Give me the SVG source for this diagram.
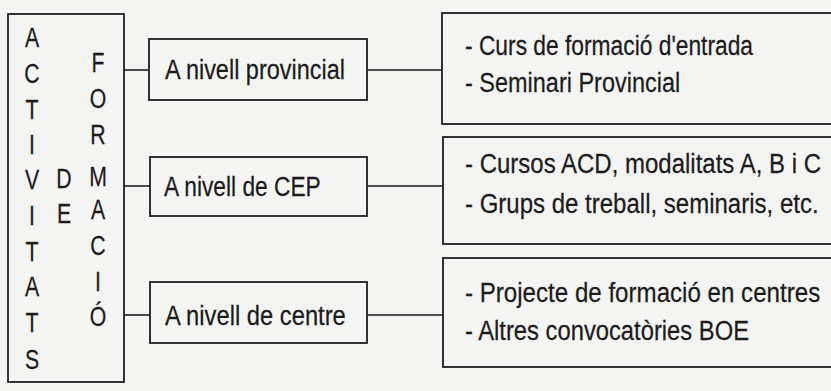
<svg xmlns="http://www.w3.org/2000/svg" width="831" height="391" viewBox="0 0 831 391">
<style>
.box{fill:none;stroke:#1e1e1e;stroke-width:1.8}
.ln{stroke:#1e1e1e;stroke-width:1.6;fill:none}
text{font-family:"Liberation Sans","DejaVu Sans",sans-serif;fill:#1c1c1c;stroke:#1c1c1c;stroke-width:0.25}
.t{font-size:28px}
.v{font-size:28px;text-anchor:middle}
</style>
<rect width="831" height="391" fill="#f4f4f2"/>
<g id="activitats">
<rect class="box" x="8" y="14" width="116" height="368"/>
<g transform="translate(32 0) scale(0.76 1)">
<text class="v" x="0" y="47">A</text>
<text class="v" x="0" y="83">C</text>
<text class="v" x="0" y="119">T</text>
<text class="v" x="0" y="154">I</text>
<text class="v" x="0" y="189">V</text>
<text class="v" x="0" y="225">I</text>
<text class="v" x="0" y="261">T</text>
<text class="v" x="0" y="296">A</text>
<text class="v" x="0" y="332">T</text>
<text class="v" x="0" y="369">S</text>
</g>
<g transform="translate(64 0) scale(0.76 1)">
<text class="v" x="0" y="188">D</text>
<text class="v" x="0" y="223">E</text>
</g>
<g transform="translate(98 0) scale(0.76 1)">
<text class="v" x="0" y="72">F</text>
<text class="v" x="0" y="108">O</text>
<text class="v" x="0" y="144">R</text>
<text class="v" x="0" y="186">M</text>
<text class="v" x="0" y="219">A</text>
<text class="v" x="0" y="255">C</text>
<text class="v" x="0" y="291">I</text>
<text class="v" x="0" y="326">Ó</text>
</g>
</g>
<g id="connectors">
<line class="ln" x1="124" y1="70" x2="149" y2="70"/>
<line class="ln" x1="124" y1="186" x2="150" y2="186"/>
<line class="ln" x1="124" y1="315" x2="150" y2="315"/>
<line class="ln" x1="367" y1="70" x2="442" y2="70"/>
<line class="ln" x1="367" y1="186" x2="443" y2="186"/>
<line class="ln" x1="367" y1="315" x2="443" y2="315"/>
</g>
<g id="provincial">
<rect class="box" x="149" y="39" width="218" height="61"/>
<text class="t" transform="translate(165 79) scale(0.8 1)" textLength="225" lengthAdjust="spacingAndGlyphs">A nivell provincial</text>
</g>
<g id="cep">
<rect class="box" x="150" y="157" width="217" height="59"/>
<text class="t" transform="translate(164 196) scale(0.8 1)" textLength="196" lengthAdjust="spacingAndGlyphs">A nivell de CEP</text>
</g>
<g id="centre">
<rect class="box" x="150" y="282" width="217" height="61"/>
<text class="t" transform="translate(165 325) scale(0.8 1)" textLength="226" lengthAdjust="spacingAndGlyphs">A nivell de centre</text>
</g>
<g id="provincial-items">
<rect class="box" x="442" y="13" width="400" height="111"/>
<text class="t" transform="translate(465 55) scale(0.8 1)" textLength="360" lengthAdjust="spacingAndGlyphs">- Curs de formació d'entrada</text>
<text class="t" transform="translate(465 92) scale(0.8 1)" textLength="269" lengthAdjust="spacingAndGlyphs">- Seminari Provincial</text>
</g>
<g id="cep-items">
<rect class="box" x="443" y="137" width="400" height="107"/>
<text class="t" transform="translate(465 173) scale(0.8 1)" textLength="445" lengthAdjust="spacingAndGlyphs">- Cursos ACD, modalitats A, B i C</text>
<text class="t" transform="translate(465 213) scale(0.8 1)" textLength="442" lengthAdjust="spacingAndGlyphs">- Grups de treball, seminaris, etc.</text>
</g>
<g id="centre-items">
<rect class="box" x="443" y="258" width="400" height="109"/>
<text class="t" transform="translate(465 302) scale(0.8 1)" textLength="444" lengthAdjust="spacingAndGlyphs">- Projecte de formació en centres</text>
<text class="t" transform="translate(465 340) scale(0.8 1)" textLength="355" lengthAdjust="spacingAndGlyphs">- Altres convocatòries BOE</text>
</g>
</svg>
